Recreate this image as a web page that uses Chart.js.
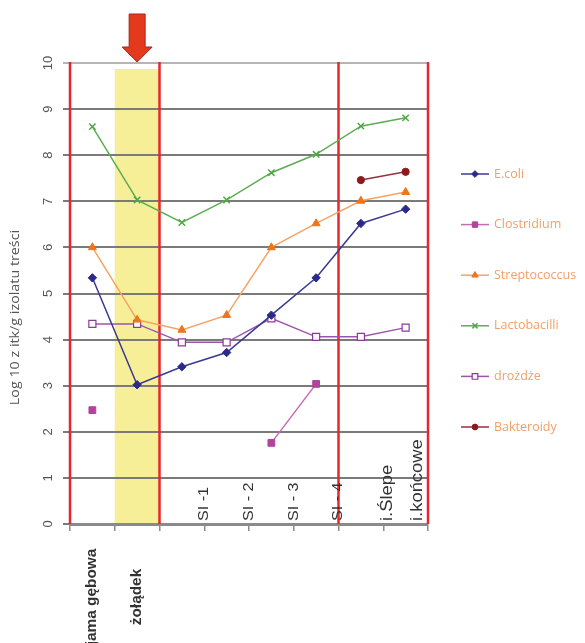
<!DOCTYPE html>
<html>
<head>
<meta charset="utf-8">
<script src="https://cdn.jsdelivr.net/npm/chart.js@4/dist/chart.umd.min.js"></script>
<style>
  html, body { margin: 0; padding: 0; background: #fff; }
  #wrap { width: 585px; height: 643px; position: relative; }
</style>
</head>
<body>
<div id="wrap"><canvas id="wykres"></canvas></div>
<script>
// odcinki przewodu pokarmowego
const kategorie = ["jama gębowa", "żołądek", "SI -1", "SI - 2", "SI - 3", "SI - 4", "i.Ślepe", "i.końcowe"];

// log10 jtk/g
const ecoli = [5.34, 3.02, 3.41, 3.72, 4.53, 5.34, 6.52, 6.83];
const clostridium = [2.47, null, null, null, 1.76, 3.04, null, null];
const streptococcus = [6.0, 4.43, 4.21, 4.53, 6.0, 6.52, 7.01, 7.2];
const lactobacilli = [8.62, 7.03, 6.54, 7.03, 7.62, 8.02, 8.63, 8.81];
const drozdze = [4.34, 4.34, 3.94, 3.94, 4.46, 4.06, 4.06, 4.26];
const bakteroidy = [null, null, null, null, null, null, 7.46, 7.64];

const yMin = 0;
const yMax = 10;
const zoltePasmo = 9.87; // gorna krawedz zoltego pasma (zoladek)
const tytulY = "Log 10 z itk/g izolatu treści";

function seria(label, data, line, fill, style, r, extra) {
  return Object.assign({
    label: label,
    data: data,
    borderColor: line,
    backgroundColor: fill,
    pointBackgroundColor: fill,
    pointBorderColor: fill,
    pointStyle: style,
    pointRadius: r,
    pointHoverRadius: r,
    borderWidth: 1.5,
    pointBorderWidth: 1,
    tension: 0,
    fill: false,
  }, extra || {});
}

const datasets = [
  seria("E.coli", ecoli, "#3a3a94", "#2b2a88", "rectRot", 4.2),
  seria("Clostridium", clostridium, "#c76bb3", "#b0449a", "rect", 4.8),
  seria("Streptococcus", streptococcus, "#f5a466", "#f07418", "triangle", 4.6),
  seria("Lactobacilli", lactobacilli, "#5cae52", "#4ea846", "crossRot", 4.5, { pointBorderWidth: 1.5 }),
  seria("drożdże", drozdze, "#9b55a8", "#ffffff", "rect", 5, { pointBorderColor: "#8a3a9a", pointBorderWidth: 1.2 }),
  seria("Bakteroidy", bakteroidy, "#963040", "#8b1a1a", "circle", 3.6),
];

// dekoracje: zolte pasmo, czerwone linie, strzalka, etykiety, legenda
const dekoracje = {
  id: "dekoracje",
  beforeDraw(chart) {
    const ctx = chart.ctx;
    const x = chart.scales.x;
    const y = chart.scales.y;
    const pol = (x.getPixelForValue(1) - x.getPixelForValue(0)) / 2;
    ctx.save();
    ctx.fillStyle = "#f7ef98";
    const top = y.getPixelForValue(zoltePasmo);
    ctx.fillRect(x.getPixelForValue(1) - pol, top, pol * 2, y.getPixelForValue(yMin) - top);
    ctx.restore();
  },
  beforeDatasetsDraw(chart) {
    const ctx = chart.ctx;
    const x = chart.scales.x;
    const a = chart.chartArea;
    const pol = (x.getPixelForValue(1) - x.getPixelForValue(0)) / 2;
    const granice = [x.getPixelForValue(0) - pol, x.getPixelForValue(1) + pol, x.getPixelForValue(5) + pol, x.getPixelForValue(7) + pol];
    ctx.save();
    ctx.strokeStyle = "#e8262c";
    ctx.lineWidth = 2.5;
    granice.forEach((gx) => {
      ctx.beginPath();
      ctx.moveTo(gx, a.top - 1);
      ctx.lineTo(gx, a.bottom);
      ctx.stroke();
    });
    ctx.restore();
  },
  afterDraw(chart) {
    const ctx = chart.ctx;
    const x = chart.scales.x;
    const a = chart.chartArea;
    const pol = (x.getPixelForValue(1) - x.getPixelForValue(0)) / 2;

    // tytul osi Y (rozciagniety jak w oryginale)
    ctx.save();
    ctx.fillStyle = "#555";
    ctx.font = "13px 'Open Sans', sans-serif";
    ctx.textAlign = "center";
    ctx.textBaseline = "middle";
    ctx.translate(15, (a.top + a.bottom) / 2 + 24);
    ctx.rotate(-Math.PI / 2);
    ctx.scale(1.1, 1);
    ctx.fillText(tytulY, 0, 0);
    ctx.restore();

    // strzalka nad zoladkiem
    const sx = x.getPixelForValue(1);
    const tip = a.top - 1;
    ctx.save();
    ctx.beginPath();
    ctx.moveTo(sx - 8, tip - 48);
    ctx.lineTo(sx + 8, tip - 48);
    ctx.lineTo(sx + 8, tip - 15);
    ctx.lineTo(sx + 15, tip - 15);
    ctx.lineTo(sx, tip);
    ctx.lineTo(sx - 15, tip - 15);
    ctx.lineTo(sx - 8, tip - 15);
    ctx.closePath();
    ctx.fillStyle = "#e33a1e";
    ctx.fill();
    ctx.strokeStyle = "#a8281a";
    ctx.lineWidth = 1;
    ctx.stroke();
    ctx.restore();

    // etykiety kategorii (pionowe)
    const przes = [0, 0, 1, 1, 1, 1, 1.2, 0.55];
    kategorie.forEach((lab, i) => {
      ctx.save();
      ctx.fillStyle = "#333";
      ctx.textBaseline = "middle";
      if (i < 2) {
        ctx.font = "bold 14px 'Liberation Sans', Arial, sans-serif";
        ctx.translate(x.getPixelForValue(i), 597);
        ctx.rotate(-Math.PI / 2);
        ctx.scale(1.1, 1);
        ctx.textAlign = "center";
      } else {
        ctx.font = (i < 6 ? "14px" : "16px") + " 'Liberation Sans', Arial, sans-serif";
        ctx.translate(x.getPixelForValue(i) + przes[i] * pol, a.bottom - 3);
        ctx.rotate(-Math.PI / 2);
        ctx.scale(1.15, 1);
        ctx.textAlign = "left";
      }
      ctx.fillText(lab, 0, 0);
      ctx.restore();
    });

    // legenda
    chart.data.datasets.forEach((ds, i) => {
      const ly = 174 + i * 50.6;
      ctx.save();
      ctx.strokeStyle = ds.borderColor;
      ctx.lineWidth = 1.5;
      ctx.beginPath();
      ctx.moveTo(461, ly);
      ctx.lineTo(489, ly);
      ctx.stroke();
      ctx.fillStyle = ds.pointBackgroundColor;
      ctx.strokeStyle = ds.pointBorderColor;
      ctx.lineWidth = ds.pointBorderWidth;
      Chart.helpers.drawPoint(ctx, {
        pointStyle: ds.pointStyle,
        radius: ds.pointRadius * 0.8,
        borderWidth: ds.pointBorderWidth,
        rotation: 0,
      }, 475, ly);
      ctx.fillStyle = "#f2a068";
      ctx.font = "12.5px 'Open Sans', sans-serif";
      ctx.textBaseline = "middle";
      ctx.textAlign = "left";
      ctx.fillText(ds.label, 494, ly);
      ctx.restore();
    });
  },
};

const ctx = document.getElementById("wykres").getContext("2d");

const config = {
  type: "line",
  data: {
    labels: kategorie,
    datasets: datasets,
  },
  options: {
    responsive: true,
    maintainAspectRatio: false,
    animation: false,
    layout: {
      padding: { top: 63, right: 157, left: 0, bottom: 0 },
    },
    plugins: {
      legend: { display: false },
      tooltip: { enabled: false },
    },
    scales: {
      x: {
        type: "category",
        offset: true,
        grid: {
          offset: true,
          drawOnChartArea: false,
          drawTicks: true,
          tickLength: 7,
          color: "#8a8a8a",
          lineWidth: 1.5,
        },
        border: { color: "#8a8a8a", width: 3 },
        ticks: { display: false },
        afterFit(scale) {
          scale.height = 119;
        },
      },
      y: {
        min: yMin,
        max: yMax,
        grid: {
          color: (c) => (c.tick && c.tick.value === yMax ? "#b5b5b5" : "#7a7a7a"),
          lineWidth: 2,
          tickLength: 7,
        },
        border: { display: false },
        ticks: {
          stepSize: 1,
          minRotation: 90,
          maxRotation: 90,
          crossAlign: "center",
          padding: 7,
          color: "#555",
          font: { family: "'Liberation Sans', Arial, sans-serif", size: 13 },
        },
        afterFit(scale) {
          scale.width = 70;
        },
      },
    },
  },
  plugins: [dekoracje],
};

const myChart = new Chart(ctx, config);
</script>
</body>
</html>
